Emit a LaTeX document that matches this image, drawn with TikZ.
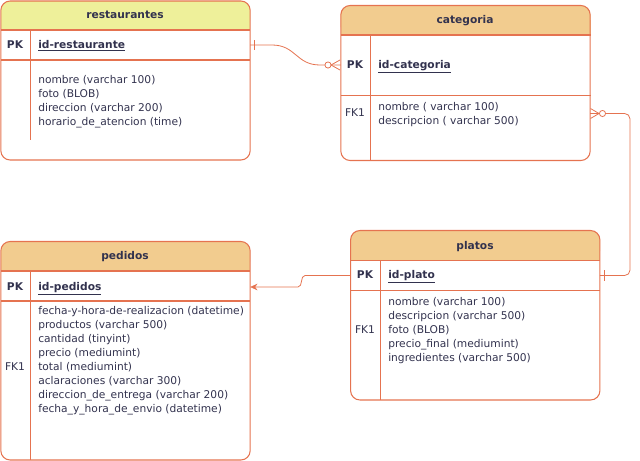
\documentclass[tikz,border=0pt]{standalone}
\usepackage{fontspec}
\setmainfont{DejaVu Sans}
\usepackage{tikz}
\usetikzlibrary{arrows.meta}
\definecolor{linea}{RGB}{229,115,80}
\definecolor{cabecera}{RGB}{242,204,143}
\definecolor{cabamarilla}{RGB}{238,240,154}
\definecolor{texto}{RGB}{50,50,78}

\begin{document}
\begin{tikzpicture}[x=0.75pt, y=-0.75pt,
    tabla/.style={draw=linea, line width=0.8pt, rounded corners=7pt, inner sep=0pt, outer sep=0pt, minimum width=187pt},
    titulo/.style={font=\fontsize{8pt}{10.5pt}\selectfont\bfseries, text=texto, text height=6pt, text depth=1.5pt},
    clave/.style={font=\fontsize{8pt}{10.5pt}\selectfont\bfseries, text=texto, inner sep=0pt, text height=6pt, text depth=1.5pt},
    fk/.style={font=\fontsize{8pt}{10.5pt}\selectfont, text=texto, inner sep=0pt, text height=6pt, text depth=1.5pt},
    campos/.style={font=\fontsize{8pt}{10.5pt}\selectfont, text=texto, align=left, inner sep=0pt, anchor=north west},
    rel/.style={draw=linea, line width=0.6pt}]
    \useasboundingbox (0,0) rectangle (640,461);

    % Headers
    \fill[cabamarilla, rounded corners=7pt] (1,1) rectangle (250,30);
    \fill[cabamarilla] (1,15) rectangle (250,30);
    \fill[cabecera, rounded corners=7pt] (340.5,5.5) rectangle (590.5,35);
    \fill[cabecera] (340.5,20) rectangle (590.5,35);
    \fill[cabecera, rounded corners=7pt] (1,241.5) rectangle (250,271);
    \fill[cabecera] (1,256) rectangle (250,271);
    \fill[cabecera, rounded corners=7pt] (350.5,230.5) rectangle (600,260.5);
    \fill[cabecera] (350.5,245) rectangle (600,260.5);

    % Tables
    \node[tabla, minimum height=119.25pt] (res) at (125.5,80.5) {};
    \node[tabla, minimum height=116.25pt] (cat) at (465.5,83) {};
    \node[tabla, minimum height=163.9pt] (ped) at (125.5,350.75) {};
    \node[tabla, minimum height=127.1pt] (pla) at (475.25,315.25) {};

    % Rows
    \draw[linea, line width=0.8pt] (1,30) -- (250,30) (1,60) -- (250,60) (30.5,30) -- (30.5,140);
    \draw[linea, line width=0.8pt] (340.5,35) -- (590.5,35) (340.5,95.5) -- (590.5,95.5) (370.5,35) -- (370.5,160.5);
    \draw[linea, line width=0.8pt] (1,271) -- (250,271) (1,301) -- (250,301) (30.5,271) -- (30.5,460);
    \draw[linea, line width=0.8pt] (350.5,260.5) -- (600,260.5) (350.5,290.5) -- (600,290.5) (380.5,260.5) -- (380.5,400);

    % Nodes
    \node[titulo] (resT) at (125,15) {restaurantes};
    \node[clave] (resPK) at (15,45) {PK};
    \node[clave, anchor=west] (resId) at (38,45) {\underline{id-restaurante}};
    \node[campos] (resBody) at (38,75.5) {nombre (varchar 100)\\foto (BLOB)\\direccion (varchar 200)\\horario\_de\_atencion (time)};

    \node[titulo] (catT) at (465,20) {categoria};
    \node[clave] (catPK) at (355,65) {PK};
    \node[clave, anchor=west] (catId) at (378,65) {\underline{id-categoria}};
    \node[fk] (catFK) at (355,113.5) {FK1};
    \node[campos] (catBody) at (378,102.5) {nombre ( varchar 100)\\descripcion ( varchar 500)};

    \node[titulo] (pedT) at (125,256) {pedidos};
    \node[clave] (pedPK) at (15,287) {PK};
    \node[clave, anchor=west] (pedId) at (38,287) {\underline{id-pedidos}};
    \node[fk] (pedFK) at (15,367) {FK1};
    \node[campos] (pedBody) at (38,306.5) {fecha-y-hora-de-realizacion (datetime)\\productos (varchar 500)\\cantidad (tinyint)\\precio (mediumint)\\total (mediumint)\\aclaraciones (varchar 300)\\direccion\_de\_entrega (varchar 200)\\fecha\_y\_hora\_de\_envio (datetime)};

    \node[titulo] (plaT) at (475,246) {platos};
    \node[clave] (plaPK) at (365,275.5) {PK};
    \node[clave, anchor=west] (plaId) at (388,275.5) {\underline{id-plato}};
    \node[fk] (plaFK) at (365,330) {FK1};
    \node[campos] (plaBody) at (388,297) {nombre (varchar 100)\\descripcion (varchar 500)\\foto (BLOB)\\precio\_final (mediumint)\\ingredientes (varchar 500)};

    % Edges
    \draw[rel] (resId -| res.east) -- (272,45) .. controls (296,45) and (296,65) .. (320,65) -- (catId -| cat.west);
    \draw[rel] (254,40) -- (254,50);
    \draw[rel] (331,65) -- (340,60) (331,65) -- (340,70);
    \draw[rel, fill=white] (328,65) circle[radius=2.3pt];

    \draw[rel, rounded corners=4pt] (catFK -| cat.east) -- (630,113.5) -- (630,275.5) -- (plaId -| pla.east);
    \draw[rel] (599,113.5) -- (590.5,108.5) (599,113.5) -- (590.5,118.5);
    \draw[rel, fill=white] (602.5,113.5) circle[radius=2.3pt];
    \draw[rel] (604,270) -- (604,281);

    \draw[rel, -{Stealth[length=5.5pt, width=5pt]}] (plaId -| pla.west) -- (305,275.5) .. controls (300,275.5) and (303,287) .. (298,287) -- (pedId -| ped.east);
\end{tikzpicture}
\end{document}
